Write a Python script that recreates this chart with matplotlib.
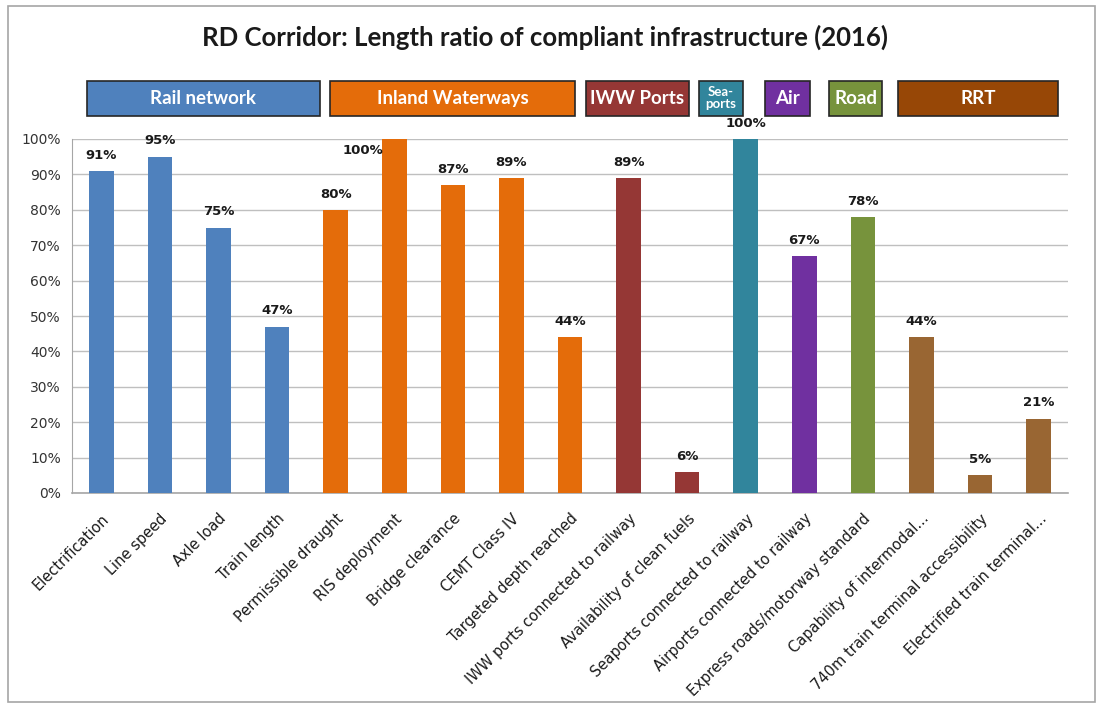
import matplotlib.pyplot as plt
from matplotlib.patches import Rectangle
from matplotlib.ticker import PercentFormatter

categories = ['Electrification', 'Line speed', 'Axle load', 'Train length',
              'Permissible draught', 'RIS deployment', 'Bridge clearance',
              'CEMT Class IV', 'Targeted depth reached',
              'IWW ports connected to railway', 'Availability of clean fuels',
              'Seaports connected to railway', 'Airports connected to railway',
              'Express roads/motorway standard', 'Capability of intermodal...',
              '740m train terminal accessibility', 'Electrified train terminal...']
values = [91, 95, 75, 47, 80, 100, 87, 89, 44, 89, 6, 100, 67, 78, 44, 5, 21]
groups = ['rail'] * 4 + ['iww'] * 5 + ['port'] * 2 + ['sea', 'air', 'road'] + ['rrt'] * 3

group_names = ['Rail network', 'Inland Waterways', 'IWW Ports', 'Sea-\nports', 'Air', 'Road', 'RRT']
bar_colors = {'rail': '#4F81BD', 'iww': '#E46C0A', 'port': '#953735', 'sea': '#31859C',
              'air': '#7030A0', 'road': '#77933C', 'rrt': '#996633'}
box_colors = ['#4F81BD', '#E46C0A', '#953735', '#31859C', '#7030A0', '#77933C', '#974706']
# header box extents in pixels (left, right)
box_px = [(87, 320), (330, 575), (586, 689), (699, 743), (765, 810), (829, 882), (898, 1058)]

W, H = 1096, 708
fig = plt.figure(figsize=(W / 100, H / 100), dpi=100)
ax = fig.add_axes([72 / W, 1 - 493 / H, 996 / W, 354 / H])

x = range(len(categories))
ax.bar(x, values, width=0.42, color=[bar_colors[g] for g in groups], zorder=3)

for i, v in enumerate(values):
    dx = 0
    dy = 2.6
    if i == 5:
        dx = -0.53
        dy = -5
    ax.text(i + dx, v + dy, f'{v}%', ha='center', va='bottom', fontsize=9.5,
            fontweight='bold', color='#1a1a1a', zorder=4)

ax.set_xlim(-0.5, len(categories) - 0.5)
ax.set_ylim(0, 100)
ax.set_yticks(range(0, 101, 10))
ax.yaxis.set_major_formatter(PercentFormatter(decimals=0))
ax.tick_params(axis='y', length=0, labelsize=10, labelcolor='#333333', pad=8)
ax.set_xticks(list(x))
ax.set_xticklabels(categories, rotation=45, ha='right', rotation_mode='anchor',
                   fontsize=10.5, color='#1a1a1a')
ax.tick_params(axis='x', length=0, pad=13)
ax.grid(axis='y', color='#BFBFBF', linewidth=1, zorder=0)
for s in ['top', 'right']:
    ax.spines[s].set_visible(False)
ax.spines['left'].set_color('#A6A6A6')
ax.spines['bottom'].set_color('#A6A6A6')
ax.spines['bottom'].set_linewidth(1.2)

fig.text(545 / W, 1 - 37 / H, 'RD Corridor: Length ratio of compliant infrastructure (2016)',
         ha='center', va='center', fontsize=18.5, fontweight='bold', family='Lato',
         color='#1a1a1a')

for name, col, (l, r) in zip(group_names, box_colors, box_px):
    fig.patches.append(Rectangle((l / W, 1 - 116 / H), (r - l) / W, 35 / H,
                                 transform=fig.transFigure, facecolor=col,
                                 edgecolor='#262626', linewidth=1.2))
    fs = 9.5 if '\n' in name else 13.5
    fig.text((l + r) / 2 / W, 1 - 98.5 / H, name, ha='center', va='center',
             fontsize=fs, fontweight='bold', family='Lato', color='white',
             linespacing=1.0)

fig.patches.append(Rectangle((8 / W, 6 / H), 1 - 9 / W, 1 - 12 / H,
                             transform=fig.transFigure, facecolor='none',
                             edgecolor='#A6A6A6', linewidth=1.2))

fig.savefig('out.png', dpi=100)
